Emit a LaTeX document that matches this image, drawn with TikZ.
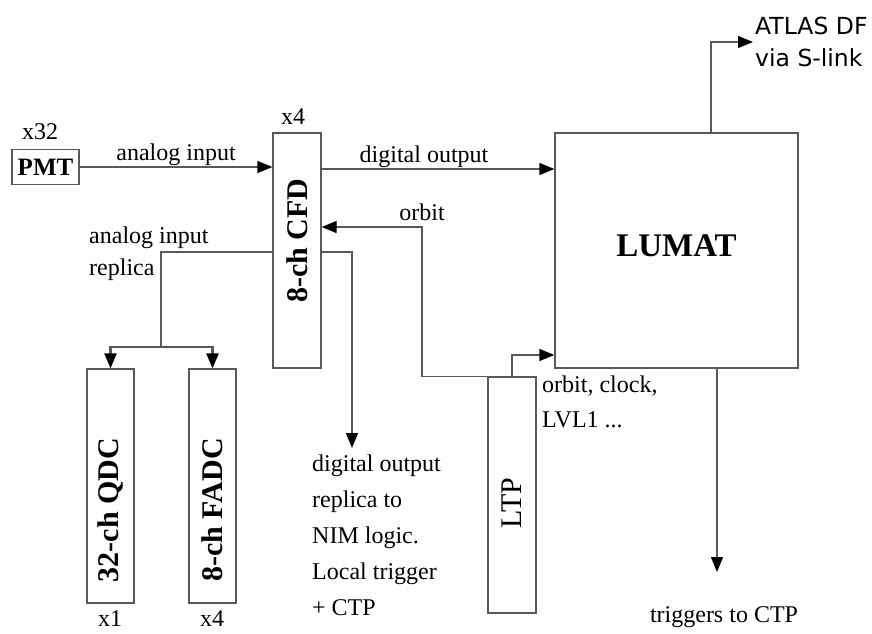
\documentclass[tikz,border=0pt]{standalone}
\usepackage{fontspec}
\usepackage{graphicx}
\setmainfont{Liberation Serif}
\newfontfamily\slinkfont{DejaVu Sans}
\usetikzlibrary{arrows.meta}

\begin{document}
\begin{tikzpicture}[x=1pt, y=-1pt,
  wire/.style={draw=black!65, line width=1.3pt},
  arr/.style={wire, -{Triangle[length=15pt, width=12pt, black]}},
  box/.style={draw=black!65, line width=1.3pt, inner sep=0pt},
  lbl/.style={font=\fontsize{24}{36}\selectfont, align=left, inner sep=1pt}]
  \useasboundingbox (0,0) rectangle (872,633);

  % Blocks
  \node[box, minimum width=67pt, minimum height=35pt, font=\bfseries\fontsize{25}{25}\selectfont]
    (pmt) at (45.5,167) {PMT};
  \node[box, minimum width=48pt, minimum height=235pt, font=\bfseries\fontsize{30}{30}\selectfont]
    (cfd) at (297,250.5) {\rotatebox{90}{\hspace{20pt}8-ch CFD}};
  \node[box, minimum width=243pt, minimum height=235pt, font=\bfseries\fontsize{33}{33}\selectfont]
    (lumat) at (676.5,250.5) {\raisebox{10pt}{LUMAT}};
  \node[box, minimum width=47pt, minimum height=234pt, font=\bfseries\fontsize{30}{30}\selectfont]
    (qdc) at (110.5,486) {\rotatebox{90}{32-ch QDC\hspace{48pt}}};
  \node[box, minimum width=47pt, minimum height=234pt, font=\bfseries\fontsize{30}{30}\selectfont]
    (fadc) at (212.5,486) {\rotatebox{90}{8-ch FADC\hspace{48pt}}};
  \node[box, minimum width=48pt, minimum height=236pt, font=\fontsize{30}{30}\selectfont]
    (ltp) at (512,495) {\rotatebox{90}{LTP\hspace{16pt}}};

  % Multiplicities
  \node[lbl] (npmt) at (40,132) {x32};
  \node[lbl] (ncfd) at (293,117) {x4};
  \node[lbl] (nqdc) at (110,619) {x1};
  \node[lbl] (nfadc) at (212,619) {x4};

  % Bend points
  \coordinate (dig) at (0,169);
  \coordinate (orbit) at (422,227);
  \coordinate (clk) at (0,355);
  \coordinate (rep) at (0,252);
  \coordinate (split) at (161,347);
  \coordinate (nim) at (352,448);
  \coordinate (slink) at (711,38);
  \coordinate (trg) at (717,572);

  % Free texts
  \node[lbl, font=\fontsize{24}{32}\selectfont, anchor=north west] (replbl) at (88,226)
    {analog input\\replica};
  \node[lbl, anchor=north west] (nimlbl) at (311,454)
    {digital output\\replica to\\NIM logic.\\Local trigger\\+ CTP};
  \node[lbl, font=\fontsize{24}{35}\selectfont, anchor=north west] (clklbl) at (541,375)
    {orbit, clock,\\LVL1 ...};
  \node[lbl, font=\slinkfont\fontsize{23.5}{32}\selectfont, anchor=west, inner sep=2pt]
    (atlas) at (753,42) {ATLAS DF\\via S-link};
  \node[lbl] (ctp) at (724,617) {triggers to CTP};

  % Connections
  \draw[arr] (pmt.east) -- (cfd.west |- pmt.east)
    node[lbl, midway, above] (anlbl) {analog input};
  \draw[arr] (cfd.east |- dig) -- (lumat.west |- dig)
    node[lbl, pos=0.44, above] (diglbl) {digital output};
  \draw[arr] (ltp.north) -| (orbit) node[lbl, above=5pt] (orblbl) {orbit}
    -- (cfd.east |- orbit);
  \draw[arr] (ltp.north) |- (lumat.west |- clk);
  \draw[wire] (cfd.west |- rep) -| (split);
  \draw[arr, line width=2.4pt] (split) -| (qdc.north);
  \draw[arr, line width=2.4pt] (split) -| (fadc.north);
  \draw[arr] (cfd.east |- rep) -| (nim);
  \draw[arr] (lumat.north -| slink) |- (atlas.west);
  \draw[arr] (lumat.south -| trg) -- (trg);

\end{tikzpicture}
\end{document}
